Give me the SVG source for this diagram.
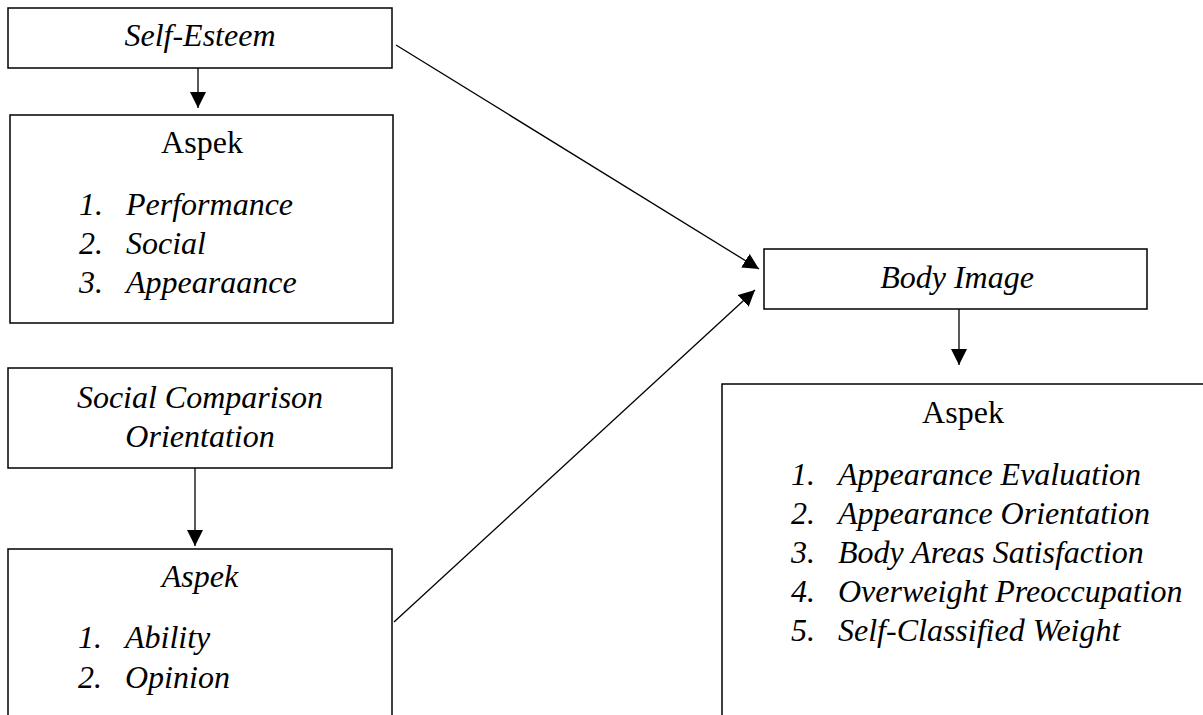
<svg xmlns="http://www.w3.org/2000/svg" width="1203" height="715" viewBox="0 0 1203 715">
<style>
.box{fill:#fff;stroke:#000;stroke-width:1.5}
text{font-family:"Liberation Serif","Times New Roman",serif;font-size:32px;fill:#000}
.i{font-style:italic}
.c{text-anchor:middle}
.ln{stroke:#000;stroke-width:1.3;fill:none}
</style>
<defs>
<marker id="ah" markerUnits="userSpaceOnUse" markerWidth="18" markerHeight="16" refX="16" refY="8" orient="auto">
<path d="M0,0 L16,8 L0,16 Z" fill="#000"/>
</marker>
</defs>
<g id="self-esteem">
<rect class="box" x="8" y="8" width="384" height="60"/>
<text class="i c" x="200" y="46">Self-Esteem</text>
</g>
<g id="aspek-se">
<rect class="box" x="10" y="115" width="383" height="208"/>
<text class="c" x="202" y="153">Aspek</text>
<text class="i" x="79" y="215">1.</text><text class="i" x="126" y="215">Performance</text>
<text class="i" x="79" y="254">2.</text><text class="i" x="126" y="254">Social</text>
<text class="i" x="79" y="293">3.</text><text class="i" x="126" y="293">Appearaance</text>
</g>
<g id="sco">
<rect class="box" x="8" y="368" width="384" height="100"/>
<text class="i c" x="200" y="408">Social Comparison</text>
<text class="i c" x="200" y="447">Orientation</text>
</g>
<g id="aspek-sco">
<rect class="box" x="8" y="549" width="384" height="180"/>
<text class="i c" x="200" y="587">Aspek</text>
<text class="i" x="78" y="648">1.</text><text class="i" x="125" y="648">Ability</text>
<text class="i" x="78" y="688">2.</text><text class="i" x="125" y="688">Opinion</text>
</g>
<g id="body-image">
<rect class="box" x="764" y="249" width="383" height="60"/>
<text class="i c" x="957" y="288">Body Image</text>
</g>
<g id="aspek-bi">
<rect class="box" x="722" y="384" width="500" height="350"/>
<text class="c" x="963" y="423">Aspek</text>
<text class="i" x="791" y="485">1.</text><text class="i" x="838" y="485">Appearance Evaluation</text>
<text class="i" x="791" y="524">2.</text><text class="i" x="838" y="524">Appearance Orientation</text>
<text class="i" x="791" y="563">3.</text><text class="i" x="838" y="563">Body Areas Satisfaction</text>
<text class="i" x="791" y="602">4.</text><text class="i" x="838" y="602">Overweight Preoccupation</text>
<text class="i" x="791" y="641">5.</text><text class="i" x="838" y="641">Self-Classified Weight</text>
</g>
<g id="connectors">
<line class="ln" x1="198" y1="68" x2="198" y2="108" marker-end="url(#ah)"/>
<line class="ln" x1="195" y1="468" x2="195" y2="546" marker-end="url(#ah)"/>
<line class="ln" x1="959" y1="309" x2="959" y2="365" marker-end="url(#ah)"/>
<line class="ln" x1="396" y1="45" x2="759" y2="269" marker-end="url(#ah)"/>
<line class="ln" x1="394" y1="622" x2="755" y2="290" marker-end="url(#ah)"/>
</g>
</svg>
